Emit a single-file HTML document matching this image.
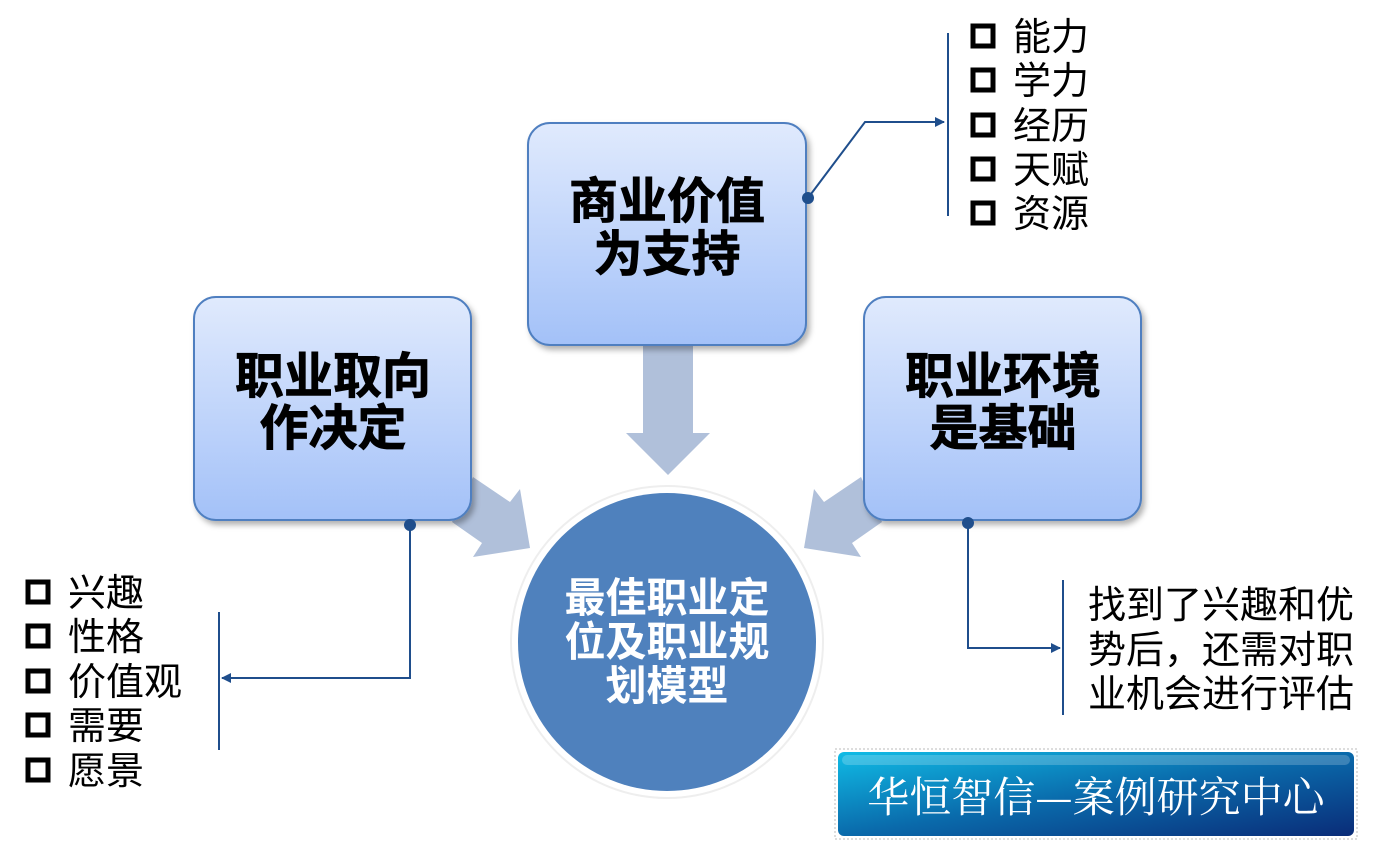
<!DOCTYPE html>
<html><head><meta charset="utf-8"><style>
html,body{margin:0;padding:0;background:#fff;}
svg{display:block;}
.b{font-family:"Liberation Sans","Noto Sans CJK SC",sans-serif;font-weight:bold;}
.n{font-family:"Liberation Sans","Noto Sans CJK SC",sans-serif;}
</style></head><body>
<svg width="1377" height="841" viewBox="0 0 1377 841" xmlns="http://www.w3.org/2000/svg">
<defs>
<linearGradient id="bx" x1="0" y1="0" x2="0" y2="1">
<stop offset="0" stop-color="#e0eafd"/><stop offset="1" stop-color="#a3c1f8"/></linearGradient>
<linearGradient id="bd" x1="0" y1="0" x2="1" y2="1">
<stop offset="0" stop-color="#10bce6"/><stop offset="0.5" stop-color="#0a6aab"/><stop offset="1" stop-color="#0a2c78"/></linearGradient>
<filter id="sh" x="-10%" y="-10%" width="130%" height="130%"><feDropShadow dx="3" dy="4" stdDeviation="3" flood-color="#000" flood-opacity="0.3"/></filter>
<marker id="ar" markerWidth="10" markerHeight="10" refX="9" refY="5" orient="auto" markerUnits="userSpaceOnUse"><path d="M0,0 L10,5 L0,10 z" fill="#1f4e8c"/></marker>
</defs>
<polygon points="643,345 693,345 693,433 710,433 668,475 626,433 643,433" fill="#b0c0da"/>
<polygon points="473,477 510,502 520,489 530,548 473,557 482,543 452,522" fill="#b0c0da"/>
<polygon points="861,477 824,502 814,489 804,548 861,557 852,543 882,522" fill="#b0c0da"/>
<rect x="528" y="123" width="278" height="222" rx="22" fill="url(#bx)" stroke="#4f7fc0" stroke-width="2" filter="url(#sh)"/>
<rect x="194" y="297" width="277" height="223" rx="22" fill="url(#bx)" stroke="#4f7fc0" stroke-width="2" filter="url(#sh)"/>
<rect x="864" y="297" width="277" height="223" rx="22" fill="url(#bx)" stroke="#4f7fc0" stroke-width="2" filter="url(#sh)"/>
<g class="b" font-size="49" text-anchor="middle" fill="#000" stroke="#000" stroke-width="0.8">
<text x="667" y="218">商业价值</text><text x="667" y="271">为支持</text>
<text x="333" y="393">职业取向</text><text x="333" y="445">作决定</text>
<text x="1003" y="393">职业环境</text><text x="1003" y="445">是基础</text>
</g>
<circle cx="667" cy="642" r="156" fill="#fff" stroke="#eeeeee" stroke-width="2"/>
<circle cx="667" cy="642" r="149" fill="#4f81bd"/>
<g class="b" font-size="41" text-anchor="middle" fill="#fff">
<text x="667" y="612">最佳职业定</text><text x="667" y="656">位及职业规</text><text x="667" y="700">划模型</text>
</g>
<g stroke="#1f4e8c" stroke-width="2" fill="none">
<polyline points="808,198 865,122 944,122" marker-end="url(#ar)"/>
<line x1="948" y1="33" x2="948" y2="216"/>
<polyline points="410,525 410,678 222,678" marker-end="url(#ar)"/>
<line x1="219" y1="612" x2="219" y2="750"/>
<polyline points="968,523 968,648 1060,648" marker-end="url(#ar)"/>
<line x1="1063" y1="580" x2="1063" y2="715"/>
</g>
<circle cx="808" cy="198" r="6" fill="#1f4e8c"/>
<circle cx="410" cy="525" r="6" fill="#1f4e8c"/>
<circle cx="968" cy="523" r="6" fill="#1f4e8c"/>
<g fill="none" stroke="#000" stroke-width="5">
<rect x="973" y="26" width="20" height="20"/><rect x="973" y="70" width="20" height="20"/><rect x="973" y="115" width="20" height="20"/><rect x="973" y="159" width="20" height="20"/><rect x="973" y="203" width="20" height="20"/>
<rect x="28" y="582" width="20" height="20"/><rect x="28" y="626" width="20" height="20"/><rect x="28" y="671" width="20" height="20"/><rect x="28" y="715" width="20" height="20"/><rect x="28" y="760" width="20" height="20"/>
</g>
<g class="n" font-size="38" fill="#000">
<text x="1013" y="50">能力</text><text x="1013" y="94">学力</text><text x="1013" y="139">经历</text><text x="1013" y="183">天赋</text><text x="1013" y="227">资源</text>
<text x="68" y="606">兴趣</text><text x="68" y="650">性格</text><text x="68" y="695">价值观</text><text x="68" y="739">需要</text><text x="68" y="784">愿景</text>
<text x="1088" y="618">找到了兴趣和优</text><text x="1088" y="663">势后，还需对职</text><text x="1088" y="707">业机会进行评估</text>
</g>
<rect x="835" y="749" width="522" height="90" fill="none" stroke="#bbb" stroke-width="1" stroke-dasharray="2,2"/>
<rect x="838" y="752" width="516" height="84" rx="6" fill="url(#bd)"/>
<rect x="842" y="755" width="508" height="10" rx="5" fill="#ffffff" opacity="0.2"/>
<text x="1096" y="812" text-anchor="middle" font-family="'Noto Serif CJK SC','Liberation Serif',serif" font-size="42" fill="#fff">华恒智信—案例研究中心</text>
</svg>
</body></html>
